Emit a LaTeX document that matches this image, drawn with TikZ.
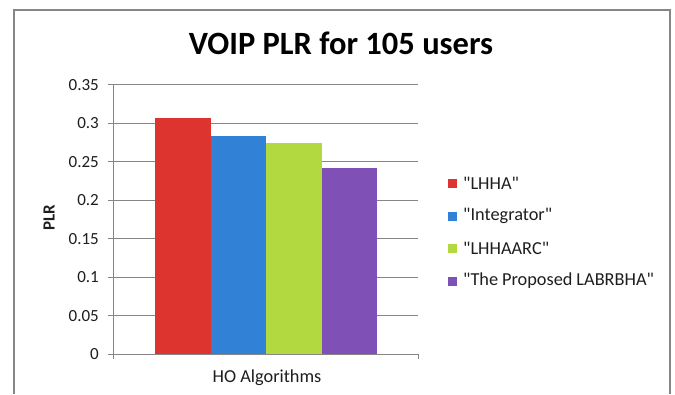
\documentclass[tikz,border=0pt]{standalone}
\usepackage{fontspec}
\setmainfont{Carlito}[Ligatures=TeXOff]
\definecolor{cred}{RGB}{222,52,48}
\definecolor{cblue}{RGB}{49,130,215}
\definecolor{cgreen}{RGB}{178,217,64}
\definecolor{cpurple}{RGB}{127,81,183}
\definecolor{cgrid}{RGB}{134,134,134}
\definecolor{ctext}{RGB}{30,30,30}
\newcommand{\dq}{\char34\relax}
\newcommand{\legfont}{\fontsize{18.3}{18.3}\selectfont}
\begin{document}
\begin{tikzpicture}[x=1pt,y=-1pt,
  grid/.style={draw=cgrid,line width=1pt},
  frame/.style={draw=cgrid,line width=2pt},
  ylab/.style={anchor=east,font=\fontsize{17}{17}\selectfont,text=ctext,inner sep=0pt},
  legtext/.style={anchor=west,font=\legfont,text=ctext,inner sep=0pt},
  legbox/.style={minimum size=9pt,inner sep=0pt,draw=none}]
\useasboundingbox (0,0) rectangle (675,394);
\fill[white] (0,0) rectangle (675,394);
% frame
\draw[frame] (14,394) -- (14,10) -- (670,10) -- (670,394);
% title
\node[font=\bfseries\fontsize{32.5}{32.5}\selectfont,text=black] (title) at (341,43) {VOIP PLR for 105 users};
% gridlines and y labels
\foreach \v/\lab [count=\i from 0] in {0/0,0.05/0.05,0.1/0.1,0.15/0.15,0.2/0.2,0.25/0.25,0.3/0.3,0.35/0.35}{
  \pgfmathsetmacro{\yy}{354-\v*768.6}
  \draw[grid] (108,\yy) -- (418,\yy);
  \node[ylab] (yl\i) at (99,\yy) {\lab};
}
% axes
\draw[grid] (113,85) -- (113,359);
\draw[grid] (418,354) -- (418,359);
% bars
\fill[cred] (155,354) rectangle (211,118);
\fill[cblue] (211,354) rectangle (266,136);
\fill[cgreen] (266,354) rectangle (322,143);
\fill[cpurple] (322,354) rectangle (377,168);
\draw[grid] (108,354) -- (418,354);
% axis titles
\node[font=\fontsize{18.3}{18.3}\selectfont,text=ctext] (xt) at (267,378) {HO Algorithms};
\node[font=\bfseries\fontsize{17}{17}\selectfont,text=ctext,rotate=90] (yt) at (49,218) {PLR};
% legend
\node[legbox,fill=cred] (lb1) at (452.5,183) {};
\node[legtext] (lt1) at (463,183) {\dq LHHA\dq};
\node[legbox,fill=cblue] (lb2) at (452.5,216) {};
\node[legtext] (lt2) at (463,216) {\dq Integrator\dq};
\node[legbox,fill=cgreen] (lb3) at (452.5,248) {};
\node[legtext] (lt3) at (463,248) {\dq LHHAARC\dq};
\node[legbox,fill=cpurple] (lb4) at (452.5,281) {};
\node[legtext] (lt4) at (463,281) {\dq The\hspace{4pt}Proposed\hspace{4pt}LABRBHA\dq};
\end{tikzpicture}
\end{document}
